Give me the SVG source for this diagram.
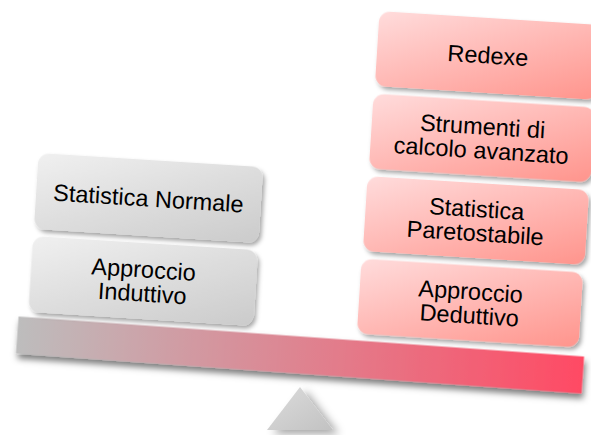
<svg xmlns="http://www.w3.org/2000/svg" width="591" height="435" viewBox="0 0 591 435">
  <defs>
    <linearGradient id="gGray" x1="0" y1="0" x2="1" y2="1">
      <stop offset="0" stop-color="#f0f0f0"/>
      <stop offset="1" stop-color="#cbcbcb"/>
    </linearGradient>
    <linearGradient id="gPink" x1="0" y1="0" x2="1" y2="1">
      <stop offset="0" stop-color="#ffdcdc"/>
      <stop offset="1" stop-color="#ff948c"/>
    </linearGradient>
    <linearGradient id="gBeam" x1="0" y1="0" x2="1" y2="0">
      <stop offset="0" stop-color="#bdbdbd"/>
      <stop offset="1" stop-color="#ff4a64"/>
    </linearGradient>
    <linearGradient id="gTri" x1="0" y1="0" x2="1" y2="1">
      <stop offset="0" stop-color="#dcdcdc"/>
      <stop offset="1" stop-color="#c2c2c2"/>
    </linearGradient>
    <filter id="shadow" x="-10%" y="-20%" width="125%" height="150%">
      <feDropShadow dx="2.5" dy="3" stdDeviation="2.2" flood-color="#000" flood-opacity="0.35"/>
    </filter>
    <filter id="beamShadow" x="-5%" y="-30%" width="110%" height="180%">
      <feDropShadow dx="2" dy="5" stdDeviation="3" flood-color="#000" flood-opacity="0.5"/>
    </filter>
    <filter id="triShadow" x="-30%" y="-30%" width="170%" height="170%">
      <feDropShadow dx="6" dy="4" stdDeviation="4" flood-color="#000" flood-opacity="0.35"/>
    </filter>
  </defs>
  <style>
    .box { stroke: none; filter: url(#shadow); }
    .gray { fill: url(#gGray); }
    .pink { fill: url(#gPink); }
    .lbl { font-family: "Liberation Sans", Arial, sans-serif; font-size: 23.5px; fill: #000; text-anchor: middle; }
  </style>

  <g id="fulcrum">
    <polygon points="300,387 333,430 267,430" fill="url(#gTri)" filter="url(#triShadow)"/>
  </g>

  <g id="beam" transform="rotate(4.05 300 355)">
    <rect x="16.5" y="336.5" width="567" height="37" fill="url(#gBeam)" filter="url(#beamShadow)"/>
  </g>

  <g id="statistica-normale" transform="rotate(3.6 148.5 198)">
    <rect class="box gray" x="36" y="160" width="225" height="76" rx="11"/>
    <text class="lbl" x="148.5" y="206.5">Statistica Normale</text>
  </g>

  <g id="approccio-induttivo" transform="rotate(3.6 143 281)">
    <rect class="box gray" x="30.5" y="243" width="225" height="76" rx="11"/>
    <text class="lbl" x="143" y="277.5">Approccio</text>
    <text class="lbl" x="143" y="301.5">Induttivo</text>
  </g>

  <g id="redexe" transform="rotate(3.6 488 55)">
    <rect class="box pink" x="377" y="18" width="222" height="75" rx="11"/>
    <text class="lbl" x="488" y="63.5">Redexe</text>
  </g>

  <g id="strumenti" transform="rotate(3.6 482 138)">
    <rect class="box pink" x="371" y="100.5" width="222" height="75" rx="11"/>
    <text class="lbl" x="482" y="134.5">Strumenti di</text>
    <text class="lbl" x="482" y="158.5">calcolo avanzato</text>
  </g>

  <g id="statistica-paretostabile" transform="rotate(3.6 476 220.5)">
    <rect class="box pink" x="365" y="183" width="222" height="75" rx="11"/>
    <text class="lbl" x="476" y="217">Statistica</text>
    <text class="lbl" x="476" y="241">Paretostabile</text>
  </g>

  <g id="approccio-deduttivo" transform="rotate(3.6 470 303)">
    <rect class="box pink" x="359" y="265.5" width="222" height="75" rx="11"/>
    <text class="lbl" x="470" y="299.5">Approccio</text>
    <text class="lbl" x="470" y="323.5">Deduttivo</text>
  </g>

  <g id="connectors"/>
</svg>
